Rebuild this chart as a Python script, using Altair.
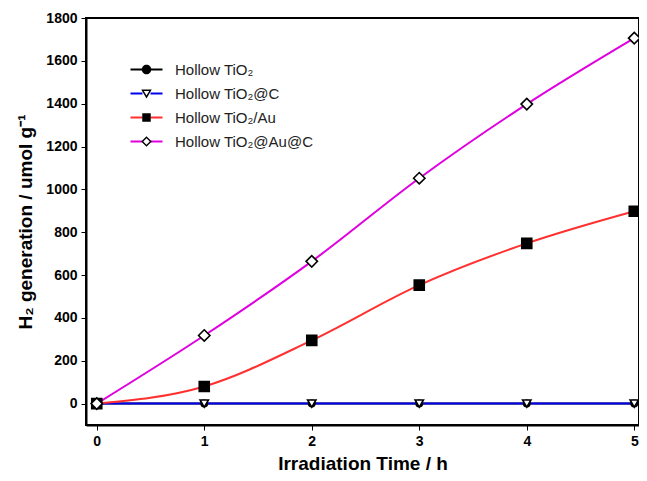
import altair as alt
import pandas as pd

times = [0, 1, 2, 3, 4, 5]
series_names = ["Hollow TiO₂", "Hollow TiO₂@C", "Hollow TiO₂/Au", "Hollow TiO₂@Au@C"]
mark_keys = ["m1", "m2", "m3", "m4"]
legend_keys = ["n1", "n2", "n3", "n4"]
v_tio2 = [0, 0, 0, 0, 0, 0]
v_tio2_c = [0, 0, 0, 0, 0, 0]
v_tio2_au = [0, 80, 295, 553, 748, 898]
v_tio2_au_c = [0, 318, 664, 1052, 1398, 1706]

line_colors = ["#000000", "#0000ee", "#ff3030", "#e000e0"]
marker_shapes = ["circle", "triangle-down", "square", "diamond"]
marker_fills = ["#000000", "#ffffff", "#000000", "#ffffff"]
marker_sizes = [40, 130, 85, 115]
# legend symbols: solid disc, triangle ring, solid square, diamond ring
legend_shapes = [
    "M-0.95,0A0.95,0.95,0,1,0,0.95,0A0.95,0.95,0,1,0,-0.95,0Z",
    "M-1.05,-0.8L1.05,-0.8L0,1Z M-0.55,-0.5L0,0.42L0.55,-0.5Z",
    "M-0.85,-0.85H0.85V0.85H-0.85Z",
    "M0,-1.05L1.05,0L0,1.05L-1.05,0Z M0,-0.65L-0.65,0L0,0.65L0.65,0Z",
]

rows = []
for name, mk, lk, vals in zip(series_names, mark_keys, legend_keys,
                              [v_tio2, v_tio2_c, v_tio2_au, v_tio2_au_c]):
    for t, v in zip(times, vals):
        rows.append({"time": t, "value": v, "series": name, "mark_key": mk, "legend_key": lk})
df = pd.DataFrame(rows)

FONT = "Liberation Sans"
xscale = alt.Scale(domain=[-0.1, 5.044], nice=False, zero=False)
yscale = alt.Scale(domain=[-100, 1800], nice=False)

x_main = alt.X("time:Q", scale=xscale,
               axis=alt.Axis(values=times, format="d", title="Irradiation Time / h"))
y_main = alt.Y("value:Q", scale=yscale,
               axis=alt.Axis(values=list(range(0, 1801, 200)), format="d",
                             title="H₂ generation / umol g⁻¹"))

LX, LY, ROWPAD, LOFF = 53, 44, 8, 21

lines = alt.Chart(df).mark_line(interpolate="monotone", strokeWidth=2).encode(
    x=x_main, y=y_main,
    color=alt.Color("series:N", sort=series_names,
                    scale=alt.Scale(domain=series_names, range=line_colors),
                    legend=alt.Legend(orient="none", legendX=LX, legendY=LY, title=None,
                                      symbolType="M-3.2,0H-0.8M0.8,0H3.2", symbolSize=100,
                                      symbolStrokeWidth=2,
                                      labelFont=FONT, labelFontSize=15, labelColor="#222222",
                                      labelOffset=LOFF, padding=0, rowPadding=ROWPAD)),
)

points = alt.Chart(df).mark_point(filled=True, stroke="black", strokeWidth=1.6, opacity=1).encode(
    x=x_main, y=y_main,
    shape=alt.Shape("mark_key:N", sort=mark_keys,
                    scale=alt.Scale(domain=mark_keys, range=marker_shapes), legend=None),
    fill=alt.Fill("mark_key:N", sort=mark_keys,
                  scale=alt.Scale(domain=mark_keys, range=marker_fills), legend=None),
    size=alt.Size("mark_key:N", scale=alt.Scale(domain=mark_keys, range=marker_sizes), legend=None),
)

legend_marks = alt.Chart(df).mark_point(filled=True, fill="black", opacity=0).encode(
    x=x_main, y=y_main,
    shape=alt.Shape("legend_key:N", sort=legend_keys,
                    scale=alt.Scale(domain=legend_keys, range=legend_shapes),
                    legend=alt.Legend(orient="none", legendX=LX, legendY=LY, title=None,
                                      symbolSize=100, symbolOpacity=1, symbolStrokeWidth=0,
                                      labelFont=FONT, labelFontSize=15, labelOpacity=0,
                                      labelExpr="' '",
                                      labelOffset=LOFF, padding=0, rowPadding=ROWPAD)),
)

chart = alt.layer(lines, points, legend_marks).resolve_legend(
    shape="independent", fill="independent", size="independent", color="independent"
).resolve_scale(shape="independent").properties(
    width=553, height=407,
    autosize=alt.AutoSizeParams(type="none"),
    padding={"left": 78, "top": 10, "right": 0, "bottom": 48},
).configure_view(stroke="black", strokeWidth=2).configure_axis(
    grid=False, domainColor="black", domainWidth=2, tickColor="black", tickSize=5, tickWidth=1,
    labelFont=FONT, labelFontSize=14, labelFontWeight="bold", labelColor="black", labelPadding=4,
    titleFont=FONT, titleFontSize=19, titleFontWeight="bold", titleColor="black",
).configure_axisX(titlePadding=6).configure_axisY(titlePadding=10)

chart.save("out.html", embed_options={"renderer": "svg", "actions": False})
